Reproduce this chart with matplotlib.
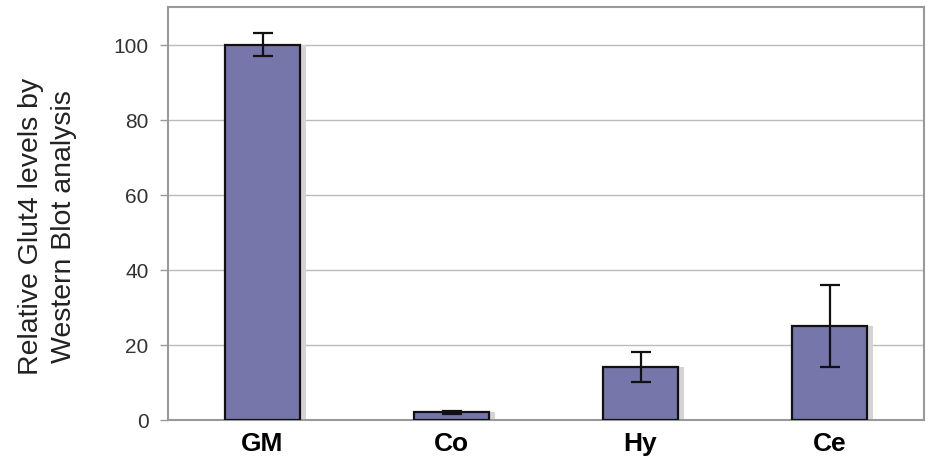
import numpy as np
import matplotlib.pyplot as plt

plt.rcParams['font.family'] = ['Liberation Sans', 'DejaVu Sans']

# Glut4 levels per group
groups = ["GM", "Co", "Hy", "Ce"]
levels = [100, 2, 14, 25]
errors = [3, 0.5, 4, 11]

fig = plt.figure(figsize=(9.3, 4.64), dpi=100)
ax = fig.add_axes([168 / 930, 43 / 464, 756 / 930, 413 / 464])

x = np.arange(len(groups))
# soft drop shadow behind each bar
ax.bar(x + 0.03, levels, width=0.4, color="#d4d4d4", zorder=2)
ax.bar(x, levels, width=0.4, color="#7676aa", edgecolor="#111111",
       linewidth=1.6, zorder=3)
ax.errorbar(x, levels, yerr=errors, fmt="none", ecolor="#111111",
            elinewidth=1.6, capsize=7, capthick=1.6, zorder=4)

ax.set_xlim(-0.5, 3.5)
ax.set_ylim(0, 110)
ax.set_yticks([0, 20, 40, 60, 80, 100])
ax.set_xticks(x)
ax.set_xticklabels(groups, fontsize=19, fontweight="bold")
ax.tick_params(axis="x", length=0, pad=8)
ax.tick_params(axis="y", labelsize=15, length=6, width=1, color="#999999",
               labelcolor="#333333", pad=8)
ax.yaxis.grid(True, color="#bbbbbb", linewidth=1, zorder=0)
ax.set_axisbelow(True)
for side in ax.spines.values():
    side.set_color("#999999")
    side.set_linewidth(1.5)

ax.set_ylabel("Relative Glut4 levels by\nWestern Blot analysis", fontsize=20.5,
              linespacing=1.35, color="#222222")
ax.yaxis.set_label_coords(-0.121, 0.472)

fig.savefig("out.png", dpi=100)
